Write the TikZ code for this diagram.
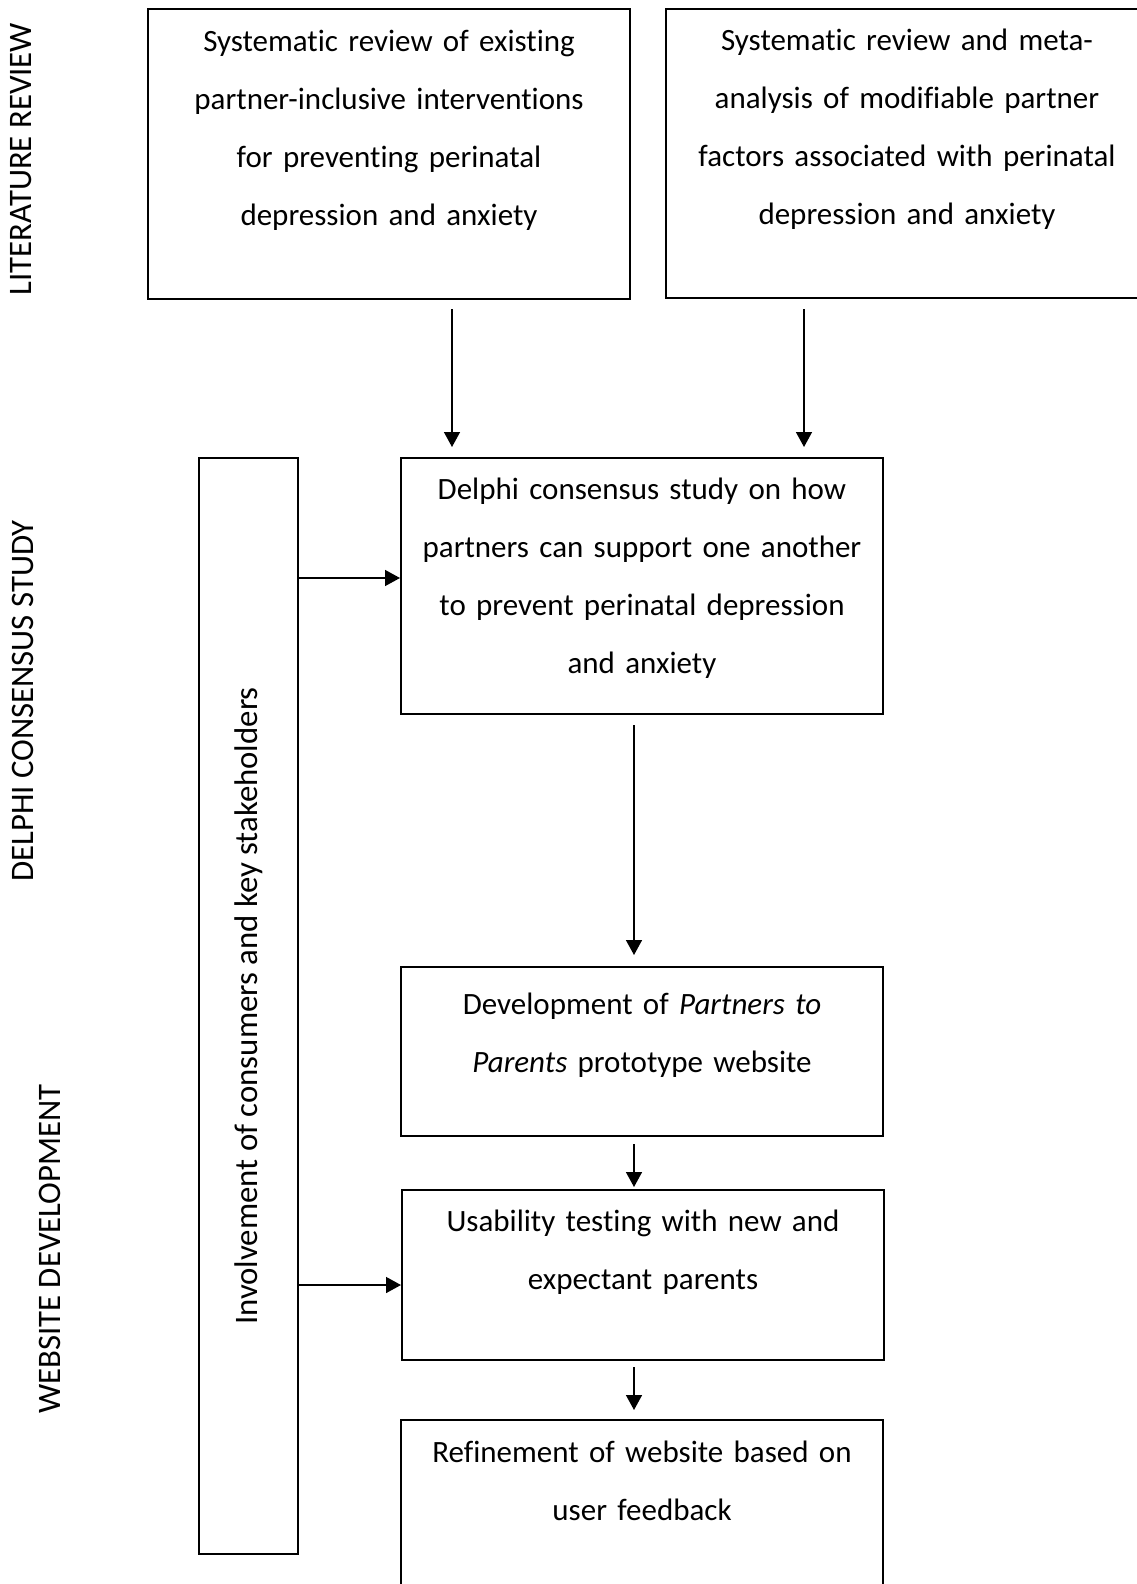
\documentclass[tikz,border=0pt]{standalone}
\usepackage{fontspec}
\setmainfont{Carlito}[Ligatures={NoCommon}]
\usetikzlibrary{arrows.meta}
\newcommand{\boxfont}{\fontsize{15.5pt}{29pt}\selectfont}
\newcommand{\phasefont}{\fontsize{16.4pt}{19pt}\selectfont}
\tikzset{
  stagebox/.style={draw=black,line width=1pt,align=center,inner sep=0pt,text width=241pt,font=\boxfont,anchor=north west},
  sidebox/.style={draw=black,line width=1pt,inner sep=0pt,minimum width=49.5pt,minimum height=548pt,anchor=north west,font=\phasefont},
  phase/.style={rotate=90,font=\phasefont,inner sep=0pt},
  flow/.style={-{Triangle[length=7.5pt,width=8pt]},line width=0.75pt}
}
\begin{document}
\begin{tikzpicture}[x=0.5pt,y=-0.5pt]
  \useasboundingbox (0,0) rectangle (1136,1584);
  % phase labels
  \node[phase] (litlab) at (21,159) {LITERATURE REVIEW};
  \node[phase] (dellab) at (23,701) {DELPHI CONSENSUS STUDY};
  \node[phase] (weblab) at (50,1249) {WEBSITE DEVELOPMENT};
  % stages
  \node[stagebox,text height=21.5pt,text depth=123.5pt] (lit1) at (147,8)
    {Systematic review of existing\\ partner-inclusive interventions\\ for preventing perinatal\\ depression and anxiety};
  \node[stagebox,text height=21pt,text depth=123.5pt] (lit2) at (665,8)
    {Systematic review and meta-\\ analysis of modifiable partner\\ factors associated with perinatal\\ depression and anxiety};
  \node[stagebox,text height=20.5pt,text depth=107.5pt] (delphi) at (400,457)
    {Delphi consensus study on how\\ partners can support one another\\ to prevent perinatal depression\\ and anxiety};
  \node[stagebox,text height=23.5pt,text depth=61pt] (dev) at (400,966)
    {Development of \textit{Partners to}\\ \textit{Parents} prototype website};
  \node[stagebox,text height=20.5pt,text depth=64.5pt] (usab) at (401,1189)
    {Usability testing with new and\\ expectant parents};
  \node[stagebox,text height=21pt,text depth=64pt] (refine) at (400,1419)
    {Refinement of website based on\\ user feedback};
  \node[sidebox] (invol) at (198,457) {\rotatebox{90}{Involvement of consumers and key stakeholders}};
  % arrows
  \draw[flow,shorten <=4.5pt,shorten >=5pt] (lit1.south -| 452,0) -- (delphi.north -| 452,0);
  \draw[flow,shorten <=5pt,shorten >=5pt] (lit2.south -| 804,0) -- (delphi.north -| 804,0);
  \draw[flow,shorten <=5pt,shorten >=5.5pt] (delphi.south -| 634,0) -- (dev.north -| 634,0);
  \draw[flow,shorten <=3.5pt,shorten >=1pt] (dev.south -| 634,0) -- (usab.north -| 634,0);
  \draw[flow,shorten <=3pt,shorten >=4.5pt] (usab.south -| 634,0) -- (refine.north -| 634,0);
  \draw[flow] (invol.east |- 0,578) -- (delphi.west |- 0,578);
  \draw[flow] (invol.east |- 0,1285) -- (usab.west |- 0,1285);
\end{tikzpicture}
\end{document}
